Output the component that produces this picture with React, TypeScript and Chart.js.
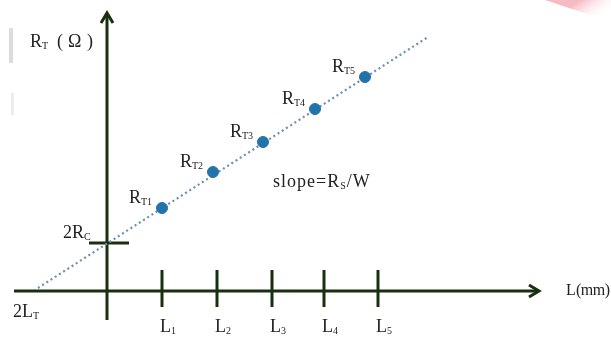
import React, { useEffect, useRef } from "react";
import { Chart, registerables } from "chart.js";

Chart.register(...registerables);

// ---- data (schematic TLM plot) ----
const L_TICKS = [5.5, 11.0, 16.5, 21.7, 27.1];
const L_TICK_LABELS = ["1", "2", "3", "4", "5"];
const POINT_L = [5.5, 10.6, 15.6, 20.8, 25.8];
const POINT_RT = [8.3, 11.9, 14.9, 18.2, 21.4];
const POINT_LABELS = ["T1", "T2", "T3", "T4", "T5"];
const FIT_L = [-6.9, 32.1];
const FIT_RT = [0.3, 25.4];
const RC2_VALUE = 4.8;
const LT2_VALUE = -6.9;
const SLOPE_LABEL = { main: "slope=R", sub: "S", tail: "/W", x: 16.6, y: 10.9 };

const X_MIN = -10.7, X_MAX = 50.4;
const Y_MIN = -4.7, Y_MAX = 29.1;
const X_AXIS_RANGE = [-9.3, 43.2];
const Y_AXIS_RANGE = [-2.9, 27.8];

const AXIS_COLOR = "#18300f";
const SERIF = '"Liberation Serif", "Times New Roman", serif';

function drawSub(ctx: CanvasRenderingContext2D, x: number, yc: number, main: string, sub: string, size = 18, tail = "", spacing = 0) {
  ctx.save();
  (ctx as any).letterSpacing = spacing + "px";
  ctx.fillStyle = "#222";
  ctx.textBaseline = "middle";
  ctx.textAlign = "left";
  ctx.font = `${size}px ${SERIF}`;
  ctx.fillText(main, x, yc);
  let w = ctx.measureText(main).width;
  ctx.font = `${Math.round(size * 0.56)}px ${SERIF}`;
  ctx.fillText(sub, x + w, yc + size * 0.24);
  w += ctx.measureText(sub).width;
  if (tail) {
    ctx.font = `${size}px ${SERIF}`;
    ctx.fillText(tail, x + w, yc);
  }
  ctx.restore();
}

const decorPlugin = {
  id: "decor",
  beforeDatasetsDraw(chart: any) {
    const ctx = chart.ctx as CanvasRenderingContext2D;
    const xs = chart.scales.x, ys = chart.scales.y;
    const px = (v: number) => xs.getPixelForValue(v);
    const py = (v: number) => ys.getPixelForValue(v);
    ctx.save();
    // background artifacts
    ctx.fillStyle = "#dcdcdc";
    ctx.fillRect(9, 28, 4, 35);
    ctx.fillStyle = "#ececec";
    ctx.fillRect(11, 93, 3, 22);
    const g = ctx.createLinearGradient(580, 0, 595, 22);
    g.addColorStop(0, "#f7b9c2");
    g.addColorStop(1, "rgba(255,255,255,0)");
    ctx.fillStyle = g;
    ctx.beginPath();
    ctx.moveTo(545, 0);
    ctx.lineTo(611, 0);
    ctx.lineTo(611, 22);
    ctx.closePath();
    ctx.fill();

    ctx.strokeStyle = AXIS_COLOR;
    ctx.lineWidth = 3;
    ctx.lineCap = "butt";
    const x0 = px(0), y0 = py(0);
    // x axis
    const xEnd = px(X_AXIS_RANGE[1]);
    ctx.beginPath();
    ctx.moveTo(px(X_AXIS_RANGE[0]), y0);
    ctx.lineTo(xEnd - 1, y0);
    ctx.stroke();
    ctx.beginPath();
    ctx.moveTo(xEnd - 10, y0 - 6);
    ctx.lineTo(xEnd, y0);
    ctx.lineTo(xEnd - 10, y0 + 6);
    ctx.stroke();
    // y axis
    const yEnd = py(Y_AXIS_RANGE[1]);
    ctx.beginPath();
    ctx.moveTo(x0, py(Y_AXIS_RANGE[0]));
    ctx.lineTo(x0, yEnd + 1);
    ctx.stroke();
    ctx.beginPath();
    ctx.moveTo(x0 - 6, yEnd + 10);
    ctx.lineTo(x0, yEnd);
    ctx.lineTo(x0 + 6, yEnd + 10);
    ctx.stroke();
    // L ticks
    L_TICKS.forEach((v) => {
      ctx.beginPath();
      ctx.moveTo(px(v), py(2.1));
      ctx.lineTo(px(v), py(-1.6));
      ctx.stroke();
    });
    // 2Rc tick
    ctx.beginPath();
    ctx.moveTo(px(-1.8), py(RC2_VALUE));
    ctx.lineTo(px(2.2), py(RC2_VALUE));
    ctx.stroke();
    ctx.restore();
  },
  afterDatasetsDraw(chart: any) {
    const ctx = chart.ctx as CanvasRenderingContext2D;
    const xs = chart.scales.x, ys = chart.scales.y;
    const px = (v: number) => xs.getPixelForValue(v);
    const py = (v: number) => ys.getPixelForValue(v);
    const x0 = px(0), y0 = py(0);
    // axis titles
    const yTop = py(Y_AXIS_RANGE[1]);
    drawSub(ctx, x0 - 77, yTop + 29, "R", "T", 18);
    ctx.save();
    ctx.fillStyle = "#222";
    ctx.font = `18px ${SERIF}`;
    ctx.textBaseline = "middle";
    ctx.fillText("(", x0 - 50, yTop + 29);
    ctx.fillText("Ω", x0 - 39, yTop + 29);
    ctx.fillText(")", x0 - 20, yTop + 29);
    ctx.font = `16px ${SERIF}`;
    ctx.fillText("L", px(X_AXIS_RANGE[1]) + 27, y0);
    (ctx as any).letterSpacing = "-0.5px";
    ctx.fillText("(mm)", px(X_AXIS_RANGE[1]) + 37, y0);
    ctx.restore();
    // L labels
    L_TICKS.forEach((v, i) => drawSub(ctx, px(v) - 2, y0 + 36, "L", L_TICK_LABELS[i], 18));
    // point labels
    POINT_L.forEach((v, i) => drawSub(ctx, px(v) - 33, py(POINT_RT[i]) - 10, "R", POINT_LABELS[i], 18));
    // 2Rc, 2LT
    drawSub(ctx, x0 - 44, py(RC2_VALUE) - 10, "2R", "C", 18);
    drawSub(ctx, px(LT2_VALUE) - 25, y0 + 21, "2L", "T", 18);
    // slope
    drawSub(ctx, px(SLOPE_LABEL.x), py(SLOPE_LABEL.y), SLOPE_LABEL.main, SLOPE_LABEL.sub, 18, SLOPE_LABEL.tail, 1);
  },
};

export default function App() {
  const ref = useRef<HTMLCanvasElement | null>(null);
  useEffect(() => {
    document.body.style.margin = "0";
    const canvas = ref.current!;
    const chart = new Chart(canvas, {
      type: "scatter",
      data: {
        datasets: [
          {
            label: "RT",
            data: POINT_L.map((x, i) => ({ x, y: POINT_RT[i] })),
            backgroundColor: "#2272ab",
            borderColor: "#2272ab",
            pointRadius: 5.5,
            order: 0,
          },
          {
            label: "fit",
            type: "line",
            data: FIT_L.map((x, i) => ({ x, y: FIT_RT[i] })),
            borderColor: "#6891ad",
            borderWidth: 2.2,
            borderDash: [2, 3],
            pointRadius: 0,
            fill: false,
            order: 1,
          } as any,
        ],
      },
      options: {
        animation: false,
        responsive: false,
        layout: { padding: 0, autoPadding: false },
        plugins: { legend: { display: false }, tooltip: { enabled: false }, title: { display: false } },
        scales: {
          x: { type: "linear", min: X_MIN, max: X_MAX, display: false },
          y: { type: "linear", min: Y_MIN, max: Y_MAX, display: false },
        },
      },
      plugins: [decorPlugin],
    });
    return () => chart.destroy();
  }, []);
  return (
    <div style={{ width: 611, height: 338, background: "#fff" }}>
      <canvas ref={ref} width={611} height={338} style={{ width: 611, height: 338, display: "block" }} />
    </div>
  );
}
